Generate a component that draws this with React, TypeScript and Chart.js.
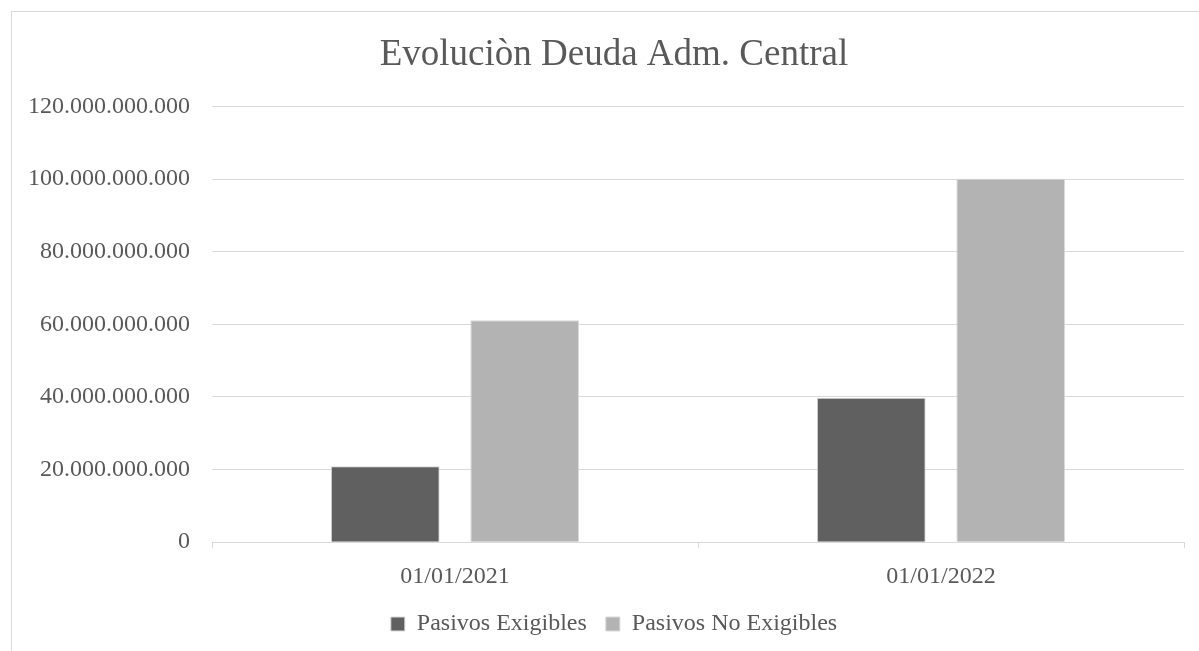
import React, { useEffect, useRef } from "react";
import { Chart, registerables } from "chart.js";

Chart.register(...registerables);

const categories = ["01/01/2021", "01/01/2022"];
const pasivosExigibles = [20900000000, 39800000000];
const pasivosNoExigibles = [61100000000, 100100000000];
const seriesNames = ["Pasivos Exigibles", "Pasivos No Exigibles"];
const titleText = "Evoluciòn Deuda Adm. Central";
const yMax = 120000000000;
const yStep = 20000000000;

const FONT = "'Liberation Serif', 'Times New Roman', serif";
const TEXT = "#595959";
const GRID = "#d9d9d9";

function fmt(v: number): string {
  return Math.round(v).toString().replace(/\B(?=(\d{3})+(?!\d))/g, ".");
}

export default function App() {
  const ref = useRef<HTMLCanvasElement | null>(null);

  useEffect(() => {
    if (!ref.current) return;
    const chart = new Chart(ref.current, {
      type: "bar",
      data: {
        labels: categories,
        datasets: [
          {
            label: seriesNames[0],
            data: pasivosExigibles,
            backgroundColor: "#606060",
            borderColor: "#d9d9d9",
            borderWidth: 1,
            categoryPercentage: 0.574,
            barPercentage: 0.78,
          },
          {
            label: seriesNames[1],
            data: pasivosNoExigibles,
            backgroundColor: "#b3b3b3",
            borderColor: "#d9d9d9",
            borderWidth: 1,
            categoryPercentage: 0.574,
            barPercentage: 0.78,
          },
        ],
      },
      options: {
        responsive: false,
        animation: false,
        devicePixelRatio: 1,
        layout: { padding: 0 },
        plugins: {
          title: {
            display: true,
            text: titleText,
            color: TEXT,
            font: { family: FONT, size: 37, weight: "normal" },
            padding: { top: 22, bottom: 29 },
          },
          legend: {
            display: true,
            position: "bottom",
            labels: {
              color: TEXT,
              font: { family: FONT, size: 24 },
              boxWidth: 14,
              boxHeight: 14,
              padding: 19,
            },
          },
          tooltip: { enabled: false },
        },
        scales: {
          x: {
            grid: {
              display: true,
              drawOnChartArea: false,
              drawTicks: true,
              tickLength: 6,
              color: GRID,
              offset: true,
            },
            border: { display: true, color: GRID },
            ticks: {
              color: TEXT,
              font: { family: FONT, size: 24 },
              padding: 14,
              maxRotation: 0,
            },
            afterFit: (s: any) => {
              s.height = 50.8;
            },
          },
          y: {
            min: 0,
            max: yMax,
            grid: { color: GRID, drawTicks: false, lineWidth: 1 },
            border: { display: false },
            ticks: {
              stepSize: yStep,
              color: TEXT,
              font: { family: FONT, size: 24 },
              padding: 22,
              callback: (v: any) => fmt(Number(v)),
            },
            afterFit: (s: any) => {
              s.width = 201;
            },
          },
          yRight: {
            position: "right",
            display: true,
            grid: { display: false, drawTicks: false },
            border: { display: false },
            ticks: { display: false },
            afterFit: (s: any) => {
              s.width = 33;
            },
          },
        },
      },
    });
    return () => chart.destroy();
  }, []);

  return (
    <div
      style={{
        position: "fixed",
        left: 0,
        top: 0,
        width: 1199,
        height: 651,
        overflow: "hidden",
        background: "#ffffff",
      }}
    >
      <div
        style={{
          position: "absolute",
          left: 11,
          top: 11,
          width: 1206,
          height: 660,
          border: "1px solid #d9d9d9",
          boxSizing: "border-box",
        }}
      />
      <canvas
        ref={ref}
        width={1206}
        height={635}
        style={{ position: "absolute", left: 11, top: 11, width: 1206, height: 635 }}
      />
    </div>
  );
}
